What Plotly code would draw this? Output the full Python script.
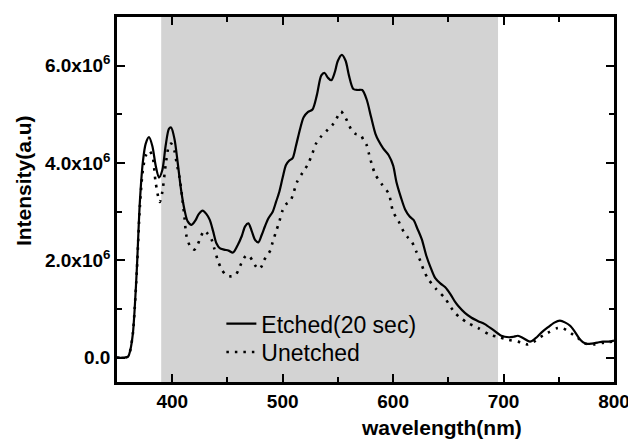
import plotly.graph_objects as go

# Photoluminescence spectra (intensity in units of 1e6)
wl_etched = [350, 355, 360, 362, 364.4, 366, 368, 370.7, 373.4, 376, 379, 382, 385, 388, 391,
             394, 397, 399, 402, 405, 408, 411, 414, 417.5, 421, 424, 427.5, 431, 434, 437,
             440, 443, 447, 451, 455, 459, 463, 466, 469, 472, 475, 478, 481, 484, 487, 491,
             494, 497, 500, 503, 506, 509, 512, 516, 519, 523, 527, 531, 535, 538, 541, 544,
             547, 550, 553.6, 557, 560, 564, 568, 572, 576, 580, 584, 587, 591, 596, 600, 603,
             607, 611, 615, 618.5, 622, 626, 630, 634, 638, 643, 647, 652, 656, 659, 665, 671,
             677, 683, 690, 698, 705, 709, 713, 718, 724, 729, 734, 740, 746, 751, 756, 760,
             764, 769, 774, 780, 785, 790, 795, 800]
int_etched = [0, 0, 0.02, 0.15, 0.5, 1.0, 1.84, 3.2, 4.02, 4.4, 4.53, 4.35, 3.95, 3.7, 3.85,
              4.35, 4.7, 4.73, 4.5, 4.0, 3.45, 3.05, 2.8, 2.73, 2.82, 2.95, 3.02, 2.95, 2.83, 2.6,
              2.35, 2.25, 2.22, 2.2, 2.16, 2.3, 2.5, 2.7, 2.76, 2.6, 2.42, 2.37, 2.52, 2.7, 2.86, 3.0,
              3.2, 3.41, 3.7, 3.96, 4.05, 4.1, 4.35, 4.72, 4.94, 5.05, 5.1, 5.4, 5.8, 5.85, 5.75, 5.7,
              5.85, 6.1, 6.22, 6.1, 5.8, 5.52, 5.5, 5.5, 5.31, 4.95, 4.6, 4.45, 4.3, 4.16, 3.95, 3.61,
              3.3, 3.04, 2.9, 2.83, 2.65, 2.43, 2.1, 1.85, 1.64, 1.52, 1.45, 1.3, 1.15, 1.06, 0.92, 0.82,
              0.75, 0.69, 0.58, 0.45, 0.42, 0.43, 0.45, 0.4, 0.33, 0.4, 0.51, 0.62, 0.72, 0.76, 0.72, 0.66,
              0.55, 0.38, 0.29, 0.29, 0.31, 0.33, 0.33, 0.35]

wl_unetched = [350, 355, 360, 362, 364.4, 366, 368, 370.7, 373.4, 376, 379, 382, 385, 388.7, 391,
               394, 397, 399, 402, 404, 406.8, 409, 411, 413, 416, 420, 423, 425, 429, 432, 435.6,
               438, 441, 444.6, 449, 453, 457, 460, 462.6, 467, 470, 472.5, 475, 478, 481, 483, 486,
               488.7, 491, 494, 497, 499.5, 503, 507, 510, 513, 518, 523, 527, 530, 535, 541, 545,
               548, 552.7, 555, 558, 562.6, 566, 570.7, 573, 576, 578, 581, 584, 589.6, 596, 600,
               605, 609.5, 613, 616.7, 621, 624.8, 628, 632, 639, 647, 652.7, 656, 660.8, 668, 677,
               687.8, 696, 704, 713, 718, 722, 727, 731, 740, 749, 754, 758, 763, 767, 774, 782,
               791, 800]
int_unetched = [0, 0, 0.02, 0.15, 0.5, 1.0, 1.8, 3.1, 3.85, 4.15, 4.25, 4.15, 3.6, 3.2, 3.4,
                3.95, 4.35, 4.4, 4.25, 4.0, 3.68, 3.3, 2.9, 2.49, 2.3, 2.22, 2.32, 2.43, 2.61, 2.55, 2.43,
                2.25, 2.02, 1.82, 1.69, 1.67, 1.69, 1.8, 1.94, 2.1, 2.08, 2.0, 1.9, 1.82, 1.88, 2.0, 2.1,
                2.2, 2.38, 2.59, 2.8, 3.0, 3.15, 3.22, 3.4, 3.61, 3.8, 3.98, 4.2, 4.39, 4.55, 4.69, 4.78,
                4.88, 5.06, 5.0, 4.88, 4.67, 4.6, 4.57, 4.48, 4.37, 4.2, 3.95, 3.76, 3.57, 3.37, 3.0,
                2.8, 2.59, 2.48, 2.39, 2.18, 1.98, 1.78, 1.61, 1.41, 1.22, 1.02, 0.92, 0.82, 0.71, 0.61,
                0.47, 0.42, 0.37, 0.33, 0.3, 0.27, 0.32, 0.39, 0.51, 0.61, 0.6, 0.55, 0.47, 0.41, 0.29, 0.27,
                0.31, 0.33]

# shaded band (nm)
band = [390, 695]

y_tickvals = [0, 2e6, 4e6, 6e6]
y_ticktext = ["0.0", "2.0x10<sup>6</sup>", "4.0x10<sup>6</sup>", "6.0x10<sup>6</sup>"]
x_tickvals = [400, 500, 600, 700, 800]

FONT = "Liberation Sans, Arial, sans-serif"

fig = go.Figure()

fig.add_trace(go.Scatter(
    x=wl_etched, y=[v * 1e6 for v in int_etched],
    mode="lines", name="Etched(20 sec)", legend="legend",
    line=dict(color="black", width=2.2, shape="spline", smoothing=0.8)
))
fig.add_trace(go.Scatter(
    x=wl_unetched, y=[v * 1e6 for v in int_unetched],
    mode="lines", name="Unetched", legend="legend2",
    line=dict(color="black", width=2.6, shape="spline", smoothing=0.8, dash="2.5px,6px")
))

fig.add_shape(type="rect", xref="x", yref="paper", x0=band[0], x1=band[1], y0=0, y1=1,
              fillcolor="#d3d3d3", line_width=0, layer="below")

axis_common = dict(
    showline=True, linecolor="black", linewidth=2.5, mirror="allticks",
    ticks="inside", ticklen=8, tickwidth=2.2, tickcolor="black",
    showgrid=False, zeroline=False,
    tickfont=dict(family=FONT, size=19, color="black", weight="bold"),
)

fig.update_xaxes(range=[350, 800], tickvals=x_tickvals,
                 minor=dict(dtick=50, ticks="inside", ticklen=5, tickwidth=2, tickcolor="black"),
                 **axis_common)
fig.update_yaxes(range=[-0.5e6, 7.0e6], tickvals=y_tickvals, ticktext=y_ticktext,
                 minor=dict(dtick=1e6, tick0=0, ticks="inside", ticklen=5, tickwidth=2, tickcolor="black"),
                 **axis_common)

legend_style = dict(xanchor="left", yanchor="middle", bgcolor="rgba(0,0,0,0)",
                    font=dict(family=FONT, size=23, color="black"))

# page body has an 8px margin, so the figure is 8px smaller on each side
fig.update_layout(
    width=628, height=433,
    margin=dict(l=109, r=20, t=6, b=59),
    plot_bgcolor="white", paper_bgcolor="white",
    font=dict(family=FONT, color="black"),
    showlegend=True,
    legend=dict(x=0.21, y=0.160, **legend_style),
    legend2=dict(x=0.21, y=0.082, **legend_style),
    annotations=[
        dict(text="wavelength(nm)", xref="paper", yref="paper", x=0.653, y=-0.125,
             xanchor="center", yanchor="middle", showarrow=False,
             font=dict(family=FONT, size=21, color="black", weight="bold")),
        dict(text="Intensity(a.u)", xref="paper", yref="paper", x=-0.188, y=0.552,
             xanchor="center", yanchor="middle", textangle=-90, showarrow=False,
             font=dict(family=FONT, size=21, color="black", weight="bold")),
    ],
)

fig.write_html("out.html")
